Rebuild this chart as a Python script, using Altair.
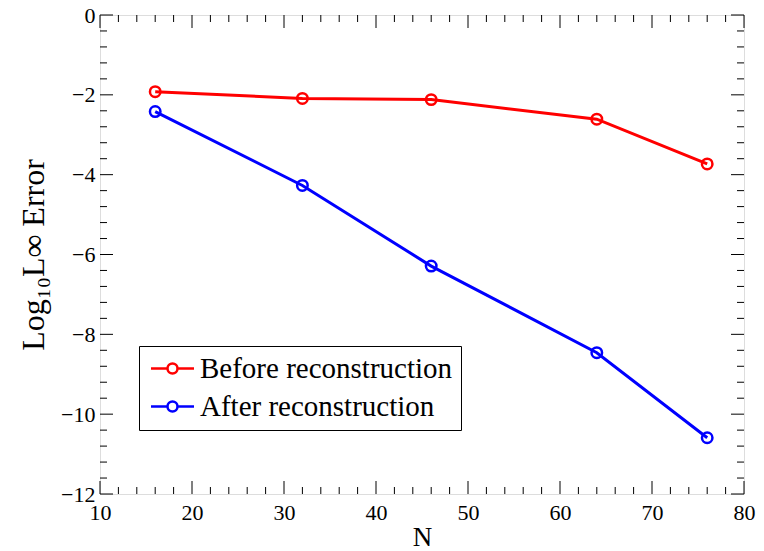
import altair as alt
import pandas as pd
import numpy as np

# ---- data ----
N = [16, 32, 46, 64, 76]
before = [-1.92, -2.09, -2.12, -2.61, -3.73]
after = [-2.42, -4.27, -6.29, -8.46, -10.59]
series_names = ["Before reconstruction", "After reconstruction"]
series_colors = ["#ff0000", "#0000ff"]

x_major = [10, 20, 30, 40, 50, 60, 70, 80]
x_minor = [v for v in range(10, 81, 2) if v % 10 != 0]
y_major = [-12, -10, -8, -6, -4, -2, 0]
y_minor = [round(v, 1) for v in np.arange(-12, 0.001, 0.4) if abs(v / 2 - round(v / 2)) > 1e-6]

W, H = 644, 479
FONT = "Liberation Serif"

df = pd.DataFrame({
    "N": N * 2,
    "err": before + after,
    "series": [series_names[0]] * len(N) + [series_names[1]] * len(N),
})

xs = alt.Scale(domain=[10, 80], nice=False, zero=False)
ys = alt.Scale(domain=[-12, 0], nice=False, zero=False)
cs = alt.Scale(domain=series_names, range=series_colors)

r = 0.465
sym_path = (f"M-2,0L-{r},0M{r},0L2,0"
            f"M-{r},0A{r},{r} 0 1,0 {r},0A{r},{r} 0 1,0 -{r},0")

legend = alt.Legend(
    title=None, orient="none", legendX=39, legendY=331,
    symbolType=sym_path, symbolSize=462, symbolStrokeWidth=2.5,
    labelFont=FONT, labelFontSize=29, labelColor="black", labelLimit=0,
    strokeColor="black", fillColor="white", padding=8, rowPadding=8,
    labelOffset=13, symbolOffset=11, cornerRadius=0,
)

x_axis = alt.Axis(values=x_major, format="d", ticks=False, domain=False, grid=False,
                  labelFont=FONT, labelFontSize=22, labelColor="black", labelPadding=8,
                  labelFlush=False, labelOverlap=False,
                  title="N", titleFont=FONT, titleFontSize=27, titleFontWeight="normal",
                  titleColor="black", titlePadding=1)
y_axis = alt.Axis(values=y_major, format="d", ticks=False, domain=False, grid=False,
                  labelFont=FONT, labelFontSize=22, labelColor="black", labelPadding=5,
                  labelFlush=False, labelOverlap=False,
                  title="Log₁₀L∞ Error", titleFont=FONT, titleFontSize=32,
                  titleFontWeight="normal", titleColor="black", titlePadding=10)

base = alt.Chart(df)
lines = base.mark_line(strokeWidth=3).encode(
    x=alt.X("N:Q", scale=xs, axis=x_axis),
    y=alt.Y("err:Q", scale=ys, axis=y_axis),
    color=alt.Color("series:N", scale=cs, legend=legend, sort=series_names),
)
points = base.mark_point(filled=False, size=110, strokeWidth=2.5, opacity=1).encode(
    x=alt.X("N:Q", scale=xs, axis=x_axis),
    y=alt.Y("err:Q", scale=ys, axis=y_axis),
    color=alt.Color("series:N", scale=cs, legend=legend, sort=series_names),
)


def xticks(vals, length, top):
    d = pd.DataFrame({"v": vals})
    y0 = 0 if top else H
    y1 = length if top else H - length
    return alt.Chart(d).mark_rule(color="black", strokeWidth=1).encode(
        x=alt.X("v:Q", scale=xs, axis=x_axis),
        y=alt.value(y0), y2=alt.value(y1))


def yticks(vals, length, right):
    d = pd.DataFrame({"v": vals})
    x0 = W if right else 0
    x1 = W - length if right else length
    return alt.Chart(d).mark_rule(color="black", strokeWidth=1).encode(
        y=alt.Y("v:Q", scale=ys, axis=y_axis),
        x=alt.value(x0), x2=alt.value(x1))


ticks = [
    xticks(x_major, 13, False), xticks(x_major, 13, True),
    xticks(x_minor, 7, False), xticks(x_minor, 7, True),
    yticks(y_major, 13, False), yticks(y_major, 13, True),
    yticks(y_minor, 7, False), yticks(y_minor, 7, True),
]

chart = alt.layer(lines, points, *ticks).properties(
    width=W, height=H,
    autosize=alt.AutoSizeParams(type="none"),
    padding={"left": 92, "top": 7, "right": 12, "bottom": 57},
).configure_view(stroke="black", strokeWidth=2).configure(background="white")

chart.save("out.html", embed_options={"renderer": "svg", "actions": False})
